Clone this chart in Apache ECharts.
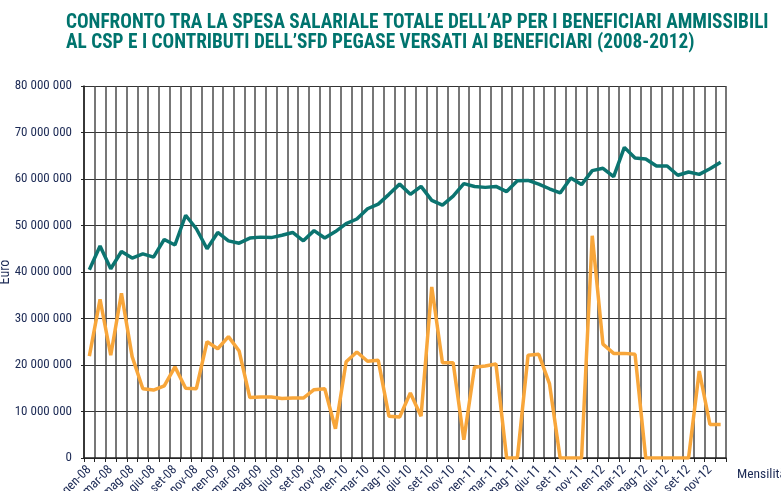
<!DOCTYPE html>
<html>
<head>
<meta charset="utf-8">
<script src="https://cdn.jsdelivr.net/npm/echarts@6/dist/echarts.min.js"></script>
<style>
html,body{margin:0;padding:0;background:#fff;}
#c{width:781px;height:491px;}
</style>
</head>
<body>
<div id="c"></div>
<script>
const titleLines = [
  "CONFRONTO TRA LA SPESA SALARIALE TOTALE DELL\u2019AP PER I BENEFICIARI AMMISSIBILI",
  "AL CSP E I CONTRIBUTI DELL\u2019SFD PEGASE VERSATI AI BENEFICIARI (2008-2012)"
];
// month labels as printed in the reference (7th month is labelled "giu")
const monthNames = ["gen","feb","mar","apr","mag","giu","giu","ago","set","ott","nov","dic"];
const years = ["08","09","10","11","12"];
const categories = [];
years.forEach(y => monthNames.forEach(m => categories.push(m + "-" + y)));

const spesaSalariale = [
  40.5, 45.6, 40.7, 44.4, 43.0, 43.9, 43.2, 47.0, 45.8, 52.2, 49.3, 45.0,
  48.5, 46.7, 46.2, 47.3, 47.5, 47.4, 47.9, 48.5, 46.7, 48.9, 47.3, 48.7,
  50.4, 51.4, 53.6, 54.6, 56.7, 58.9, 56.7, 58.4, 55.4, 54.4, 56.3, 59.0,
  58.4, 58.2, 58.4, 57.3, 59.6, 59.7, 58.9, 57.9, 57.0, 60.2, 58.8, 61.8,
  62.3, 60.5, 66.8, 64.5, 64.3, 62.8, 62.8, 60.8, 61.5, 61.0, 62.2, 63.6
].map(v => v * 1e6);

const contributiPegase = [
  21.9, 34.1, 22.1, 35.4, 21.8, 14.9, 14.6, 15.5, 19.6, 15.0, 14.9, 25.0,
  23.5, 26.1, 23.0, 13.0, 13.1, 13.1, 12.8, 12.9, 12.9, 14.7, 14.9, 6.3,
  20.7, 22.8, 20.8, 21.0, 9.0, 8.8, 14.0, 9.0, 36.8, 20.5, 20.5, 3.9,
  19.5, 19.8, 20.2, 0, 0, 22.1, 22.3, 16.0, 0, 0, 0, 47.8,
  24.5, 22.5, 22.5, 22.3, 0, 0, 0, 0, 0, 18.7, 7.2, 7.2
].map(v => v * 1e6);

const yMin = 0, yMax = 80000000, yStep = 10000000;
const yAxisName = "Euro";
const xAxisName = "Mensilit\u00e0";

const FONT = "'Liberation Sans Narrow','Arial Narrow','Roboto Condensed',sans-serif";
const chart = echarts.init(document.getElementById('c'));
function fmt(v){ return String(v).replace(/\B(?=(\d{3})+(?!\d))/g, ' '); }

chart.setOption({
  animation: false,
  backgroundColor: '#fff',
  title: {
    text: titleLines.join('\n'),
    left: 61, top: 8,
    textStyle: { color: '#00746e', fontWeight: 'bold', fontSize: 19.3, lineHeight: 20, fontFamily: FONT }
  },
  grid: { left: 84, right: 55, top: 86, bottom: 33, containLabel: false, outerBoundsMode: 'none' },
  xAxis: {
    type: 'category',
    data: categories,
    boundaryGap: true,
    name: xAxisName,
    nameLocation: 'end',
    nameGap: 11,
    nameMoveOverlap: false,
    nameTextStyle: { color: '#1c2a55', fontSize: 13.5, fontFamily: FONT, verticalAlign: 'top', padding: [10, 0, 0, 0] },
    axisLine: { lineStyle: { color: '#222', width: 1.5 } },
    axisTick: { show: true, interval: 0, length: 4, lineStyle: { color: '#222' } },
    axisLabel: { interval: 1, rotate: 45, color: '#1c2a55', fontSize: 13, fontFamily: FONT, margin: 10 },
    splitLine: { show: true, interval: 0, lineStyle: { color: '#4a4a4a', width: 1.5 } }
  },
  yAxis: {
    type: 'value',
    min: yMin, max: yMax, interval: yStep,
    name: yAxisName,
    nameLocation: 'middle',
    nameGap: 72,
    nameMoveOverlap: false,
    nameTextStyle: { color: '#1c2a55', fontSize: 14, fontFamily: FONT },
    axisLine: { show: true, lineStyle: { color: '#222', width: 1.5 } },
    axisTick: { show: true, length: 3, lineStyle: { color: '#222' } },
    axisLabel: { color: '#1c2a55', fontSize: 13, fontFamily: FONT, margin: 12, formatter: fmt },
    splitLine: { show: true, lineStyle: { color: '#333', width: 1 } }
  },
  series: [
    { name: 'Spesa salariale', type: 'line', data: spesaSalariale, symbol: 'none',
      lineStyle: { color: '#0b7470', width: 3.5 }, z: 3 },
    { name: 'Contributi PEGASE', type: 'line', data: contributiPegase, symbol: 'none',
      lineStyle: { color: '#f8a63a', width: 3.5 }, z: 2 }
  ]
});
</script>
</body>
</html>
